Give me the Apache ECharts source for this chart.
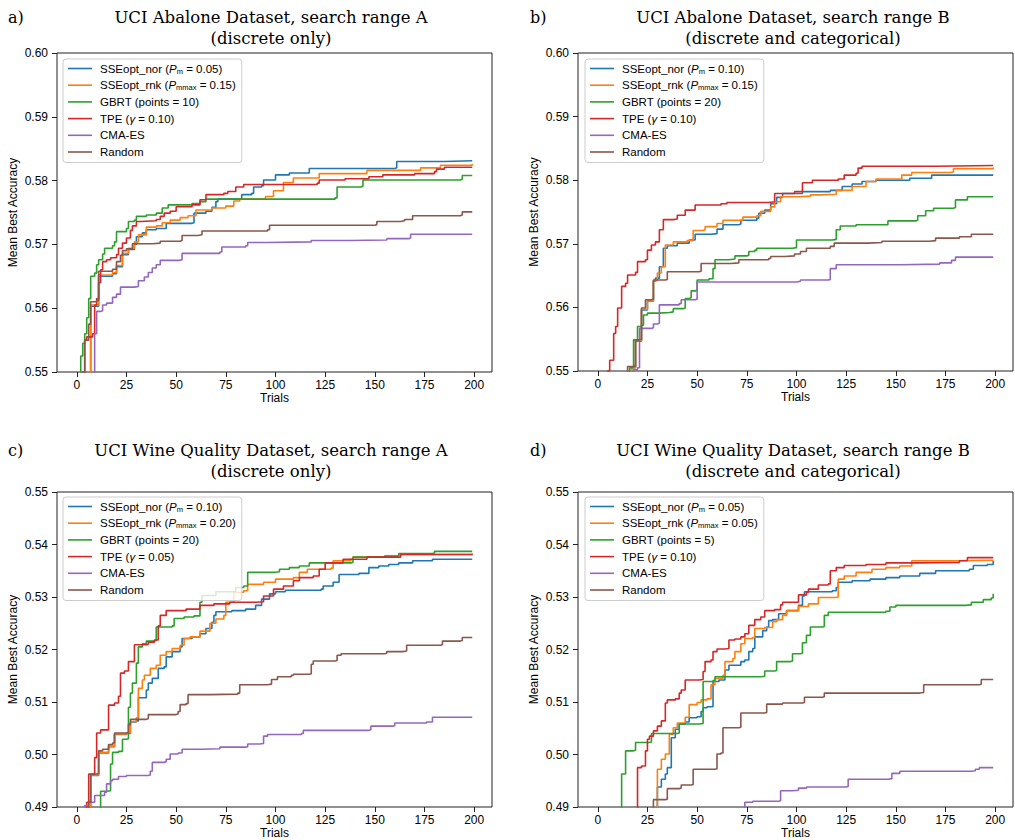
<!DOCTYPE html>
<html>
<head>
<meta charset="utf-8">
<script src="https://cdn.jsdelivr.net/npm/echarts@6/dist/echarts.min.js"></script>
<style>
  html, body { margin: 0; padding: 0; background: #fff; }
  #chart { width: 1015px; height: 840px; }
</style>
</head>
<body>
<div id="chart"></div>
<script>
// tick labels
var trialTicks = [0, 25, 50, 75, 100, 125, 150, 175, 200];
var abaloneTicks = [0.55, 0.56, 0.57, 0.58, 0.59, 0.60];
var wineTicks = [0.49, 0.50, 0.51, 0.52, 0.53, 0.54, 0.55];

// legend entries per panel
var namesA = ['SSEopt_nor (Pm = 0.05)', 'SSEopt_rnk (Pmmax = 0.15)', 'GBRT (points = 10)', 'TPE (γ = 0.10)', 'CMA-ES', 'Random'];
var namesB = ['SSEopt_nor (Pm = 0.10)', 'SSEopt_rnk (Pmmax = 0.15)', 'GBRT (points = 20)', 'TPE (γ = 0.10)', 'CMA-ES', 'Random'];
var namesC = ['SSEopt_nor (Pm = 0.10)', 'SSEopt_rnk (Pmmax = 0.20)', 'GBRT (points = 20)', 'TPE (γ = 0.05)', 'CMA-ES', 'Random'];
var namesD = ['SSEopt_nor (Pm = 0.05)', 'SSEopt_rnk (Pmmax = 0.05)', 'GBRT (points = 5)', 'TPE (γ = 0.10)', 'CMA-ES', 'Random'];

// --- a) Abalone, range A : [trial, mean best accuracy]
var nor_a = [[0,0.540],[4,0.549],[7,0.5603],[11,0.5650],[18,0.5654],[20,0.5665],[23,0.5684],[26,0.5692],[29,0.5700],[30,0.5712],[33,0.5718],[35,0.5723],[40,0.5725],[45,0.5733],[58,0.5734],[59,0.5749],[65,0.5752],[68,0.5758],[70,0.5767],[71,0.5771],[82,0.5772],[83,0.5778],[88,0.5780],[89,0.5790],[93,0.5792],[94,0.5801],[100,0.5809],[107,0.5812],[117,0.5819],[160,0.5820],[161,0.5830],[185,0.5831],[199,0.5832]];
var rnk_a = [[0,0.540],[4,0.549],[7,0.5605],[11,0.5652],[18,0.5656],[20,0.5667],[23,0.5686],[26,0.5694],[29,0.5704],[31,0.5715],[35,0.5727],[40,0.5729],[43,0.5734],[47,0.5738],[52,0.5742],[56,0.5745],[60,0.5754],[68,0.5757],[75,0.5760],[79,0.5768],[82,0.5771],[95,0.5775],[99,0.5784],[104,0.5797],[109,0.5804],[122,0.5811],[146,0.5816],[173,0.5820],[183,0.5824],[199,0.5826]];
var gbrt_a = [[0,0.540],[1.5,0.549],[2,0.5525],[3,0.5545],[4,0.556],[5,0.5585],[6,0.5615],[7,0.5650],[9,0.5655],[10,0.5668],[11,0.5676],[13,0.5685],[14,0.5694],[18,0.5698],[19,0.5704],[20,0.5720],[25,0.5725],[26,0.5736],[29,0.5738],[30,0.5744],[35,0.5746],[40,0.5749],[43,0.5757],[46,0.5762],[58,0.5764],[62,0.5767],[65,0.5771],[130,0.5773],[131,0.5790],[143,0.5791],[144,0.5801],[193,0.5802],[194,0.5808],[199,0.5808]];
var tpe_a = [[0,0.540],[3,0.548],[4,0.5550],[5,0.5555],[8,0.5560],[9,0.5605],[10,0.5615],[11,0.5640],[12,0.5660],[13,0.5673],[15,0.5676],[17,0.5679],[20,0.5684],[21,0.5694],[23,0.5702],[25,0.5710],[27,0.5722],[28,0.5729],[30,0.5736],[32,0.5737],[40,0.5739],[42,0.5744],[44,0.5749],[47,0.5752],[50,0.5759],[58,0.5762],[62,0.5770],[65,0.5778],[74,0.5780],[76,0.5783],[80,0.5790],[84,0.5794],[121,0.5796],[122,0.5801],[135,0.5803],[147,0.5806],[154,0.5809],[170,0.5811],[180,0.5814],[181,0.5818],[185,0.5821],[199,0.5822]];
var cma_a = [[0,0.540],[8,0.545],[9,0.5560],[10,0.5595],[12,0.5596],[13,0.5605],[15,0.5608],[18,0.5617],[20,0.5622],[22,0.5633],[29,0.5634],[31,0.5643],[34,0.5649],[36,0.5656],[38,0.5663],[40,0.5668],[42,0.5675],[52,0.5676],[53,0.5686],[72,0.5688],[73,0.5696],[85,0.5698],[86,0.5703],[96,0.5704],[118,0.5706],[137,0.5707],[156,0.5709],[167,0.5710],[168,0.5716],[199,0.5716]];
var rand_a = [[0,0.540],[3,0.550],[4,0.555],[6,0.5575],[7,0.5610],[10,0.5612],[11,0.5658],[18,0.5661],[20,0.5673],[22,0.5683],[23,0.5690],[25,0.5693],[28,0.5701],[38,0.5702],[42,0.5705],[52,0.5706],[53,0.5714],[61,0.5715],[63,0.5721],[96,0.5723],[97,0.5730],[150,0.5731],[151,0.5736],[163,0.5737],[165,0.5739],[169,0.5745],[193,0.5746],[194,0.5751],[199,0.5751]];

// --- b) Abalone, range B
var nor_b = [[0,0.540],[15,0.546],[17,0.5505],[19,0.5547],[22,0.5596],[25,0.5610],[28,0.5641],[29,0.5646],[31,0.5664],[33,0.5693],[35,0.5697],[40,0.5701],[46,0.5706],[49,0.5715],[57,0.5716],[60,0.5723],[63,0.5730],[71,0.5731],[72,0.5737],[80,0.5740],[81,0.5748],[84,0.5753],[87,0.5763],[90,0.5773],[93,0.5779],[103,0.5782],[117,0.5784],[123,0.5790],[128,0.5794],[133,0.5798],[140,0.5800],[157,0.5803],[168,0.5808],[199,0.5809]];
var rnk_b = [[0,0.540],[15,0.546],[17,0.5505],[19,0.5548],[22,0.5597],[25,0.5611],[28,0.5642],[30,0.5654],[32,0.5664],[34,0.5698],[38,0.5703],[45,0.5705],[48,0.5721],[53,0.5722],[54,0.5727],[60,0.5732],[63,0.5737],[73,0.5742],[80,0.5744],[82,0.5751],[87,0.5758],[89,0.5766],[92,0.5774],[101,0.5775],[107,0.5777],[112,0.5778],[120,0.5784],[128,0.5790],[135,0.5798],[140,0.5802],[153,0.5808],[158,0.5812],[177,0.5813],[179,0.5818],[199,0.5820]];
var gbrt_b = [[0,0.540],[15,0.548],[16,0.5505],[18,0.5549],[20,0.5570],[22,0.5572],[23,0.5588],[25,0.5591],[31,0.5592],[36,0.5593],[38,0.5598],[43,0.5599],[44,0.5614],[46,0.5615],[47,0.5626],[49,0.5627],[50,0.5643],[56,0.5645],[58,0.5661],[59,0.5675],[66,0.5676],[69,0.5681],[75,0.5682],[76,0.5688],[79,0.5690],[80,0.5693],[98,0.5694],[100,0.5706],[118,0.5707],[120,0.5722],[122,0.5728],[130,0.5730],[146,0.5736],[160,0.5737],[161,0.5744],[165,0.5752],[169,0.5756],[179,0.5757],[180,0.5769],[186,0.5774],[199,0.5774]];
var tpe_b = [[0,0.540],[5,0.5500],[6,0.5517],[8,0.5559],[9,0.5570],[10,0.5599],[12,0.5633],[14,0.5638],[15,0.5651],[19,0.5655],[20,0.5672],[24,0.5675],[25,0.5690],[27,0.5698],[29,0.5703],[31,0.5722],[33,0.5738],[38,0.5739],[40,0.5745],[44,0.5753],[49,0.5761],[62,0.5763],[65,0.5765],[86,0.5766],[89,0.5779],[99,0.5782],[103,0.5796],[108,0.5800],[121,0.5802],[124,0.5808],[130,0.5811],[131,0.5819],[133,0.5822],[170,0.5823],[199,0.5824]];
var cma_b = [[0,0.540],[17,0.5495],[18,0.5502],[20,0.5505],[21,0.5567],[27,0.5568],[28,0.5574],[30,0.5575],[31,0.5604],[41,0.5606],[42,0.5612],[49,0.5613],[50,0.5640],[100,0.5641],[102,0.5643],[116,0.5644],[117,0.5661],[120,0.5667],[152,0.5668],[172,0.5670],[178,0.5674],[180,0.5679],[199,0.5680]];
var rand_b = [[0,0.540],[14,0.548],[15,0.5507],[18,0.5508],[19,0.5549],[21,0.5550],[22,0.5599],[24,0.5612],[27,0.5613],[28,0.5643],[34,0.5644],[35,0.5656],[51,0.5657],[52,0.5669],[67,0.5670],[71,0.5675],[86,0.5677],[87,0.5680],[94,0.5681],[99,0.5684],[102,0.5688],[105,0.5693],[117,0.5696],[119,0.5701],[136,0.5702],[143,0.5704],[167,0.5705],[170,0.5709],[182,0.5711],[188,0.5715],[199,0.5716]];

// --- c) Wine quality, range A
var nor_c = [[0,0.485],[5,0.4900],[7,0.4960],[11,0.5003],[16,0.5015],[19,0.5038],[25,0.5040],[27,0.5062],[30,0.5064],[31,0.5108],[35,0.5123],[36,0.5136],[38,0.5145],[41,0.5164],[44,0.5167],[45,0.5186],[48,0.5196],[52,0.5205],[53,0.5221],[58,0.5224],[62,0.5230],[65,0.5240],[68,0.5252],[69,0.5265],[70,0.5272],[78,0.5274],[85,0.5277],[90,0.5284],[93,0.5296],[97,0.5306],[100,0.5310],[105,0.5313],[123,0.5315],[124,0.5321],[129,0.5328],[132,0.5343],[142,0.5345],[147,0.5356],[152,0.5359],[157,0.5362],[162,0.5365],[169,0.5369],[179,0.5372],[199,0.5373]];
var rnk_c = [[0,0.485],[5,0.4900],[7,0.4961],[11,0.5004],[16,0.5016],[19,0.5039],[25,0.5041],[27,0.5063],[30,0.5070],[31,0.5126],[33,0.5142],[34,0.5151],[37,0.5164],[40,0.5170],[42,0.5189],[45,0.5196],[48,0.5202],[52,0.5208],[54,0.5221],[57,0.5224],[62,0.5235],[67,0.5250],[70,0.5258],[74,0.5265],[75,0.5290],[79,0.5309],[84,0.5312],[86,0.5324],[94,0.5328],[100,0.5334],[109,0.5337],[112,0.5347],[116,0.5353],[128,0.5355],[129,0.5369],[138,0.5372],[139,0.5376],[155,0.5378],[162,0.5381],[199,0.5381]];
var gbrt_c = [[0,0.485],[11,0.4880],[12,0.4930],[15,0.4931],[17,0.4982],[18,0.5004],[21,0.5006],[23,0.5029],[25,0.5030],[26,0.5090],[27,0.5117],[28,0.5136],[30,0.5174],[31,0.5205],[33,0.5211],[35,0.5216],[39,0.5217],[40,0.5243],[48,0.5245],[49,0.5259],[54,0.5262],[59,0.5264],[62,0.5290],[63,0.5303],[70,0.5310],[80,0.5318],[84,0.5321],[86,0.5347],[100,0.5348],[102,0.5353],[107,0.5356],[112,0.5359],[117,0.5365],[138,0.5366],[139,0.5376],[155,0.5378],[162,0.5383],[179,0.5384],[180,0.5387],[199,0.5387]];
var tpe_c = [[0,0.485],[3,0.4895],[5,0.4909],[6,0.4963],[9,0.4994],[10,0.5041],[12,0.5047],[16,0.5094],[19,0.5098],[21,0.5111],[22,0.5155],[24,0.5159],[26,0.5177],[29,0.5209],[35,0.5210],[36,0.5214],[39,0.5218],[41,0.5245],[42,0.5265],[45,0.5274],[55,0.5277],[62,0.5284],[69,0.5287],[77,0.5290],[90,0.5291],[94,0.5302],[99,0.5315],[104,0.5321],[109,0.5331],[112,0.5337],[119,0.5340],[122,0.5353],[125,0.5365],[134,0.5372],[146,0.5376],[163,0.5381],[199,0.5383]];
var cma_c = [[0,0.485],[4,0.4903],[6,0.4909],[9,0.4922],[14,0.4928],[15,0.4944],[17,0.4950],[18,0.4953],[21,0.4958],[25,0.4960],[36,0.4961],[37,0.4968],[38,0.4985],[44,0.4986],[45,0.4991],[47,0.5001],[51,0.5003],[53,0.5010],[63,0.5011],[72,0.5014],[85,0.5015],[86,0.5020],[92,0.5021],[94,0.5035],[96,0.5038],[113,0.5040],[114,0.5046],[147,0.5047],[148,0.5054],[159,0.5055],[160,0.5060],[176,0.5062],[179,0.5071],[199,0.5071]];
var rand_c = [[0,0.485],[4,0.4895],[6,0.4909],[7,0.4963],[10,0.4964],[11,0.5007],[13,0.5010],[16,0.5019],[18,0.5022],[19,0.5041],[25,0.5042],[26,0.5057],[27,0.5067],[35,0.5068],[36,0.5076],[50,0.5077],[51,0.5082],[52,0.5095],[55,0.5097],[56,0.5114],[67,0.5115],[81,0.5117],[82,0.5133],[96,0.5134],[98,0.5143],[101,0.5148],[108,0.5151],[109,0.5153],[117,0.5154],[118,0.5172],[119,0.5178],[130,0.5179],[131,0.5189],[133,0.5192],[155,0.5193],[156,0.5196],[164,0.5197],[166,0.5208],[183,0.5209],[184,0.5216],[193,0.5217],[194,0.5223],[199,0.5223]];

// --- d) Wine quality, range B
var nor_d = [[0,0.485],[28,0.4880],[30,0.4938],[32,0.4953],[34,0.4963],[35,0.4975],[37,0.5032],[39,0.5048],[41,0.5058],[44,0.5062],[46,0.5070],[50,0.5072],[52,0.5082],[53,0.5089],[55,0.5091],[58,0.5139],[61,0.5142],[64,0.5161],[66,0.5170],[72,0.5177],[74,0.5180],[76,0.5196],[78,0.5202],[79,0.5224],[83,0.5236],[85,0.5243],[86,0.5255],[88,0.5257],[91,0.5268],[95,0.5274],[101,0.5284],[103,0.5302],[104,0.5310],[118,0.5312],[120,0.5318],[121,0.5328],[128,0.5331],[137,0.5334],[145,0.5337],[152,0.5340],[162,0.5345],[170,0.5350],[187,0.5353],[189,0.5360],[196,0.5362],[199,0.5369]];
var rnk_d = [[0,0.485],[28,0.4880],[30,0.4972],[32,0.4991],[34,0.5001],[36,0.5038],[38,0.5051],[40,0.5060],[44,0.5071],[46,0.5095],[50,0.5099],[52,0.5104],[55,0.5106],[57,0.5133],[59,0.5145],[63,0.5151],[64,0.5177],[68,0.5183],[69,0.5196],[72,0.5211],[74,0.5221],[78,0.5223],[79,0.5240],[84,0.5242],[88,0.5253],[90,0.5257],[93,0.5265],[95,0.5274],[101,0.5282],[106,0.5287],[111,0.5299],[120,0.5300],[121,0.5334],[124,0.5340],[130,0.5347],[138,0.5353],[145,0.5356],[152,0.5359],[158,0.5369],[180,0.5370],[199,0.5370]];
var gbrt_d = [[0,0.485],[11,0.4880],[12,0.4963],[14,0.5007],[18,0.5008],[19,0.5023],[26,0.5024],[27,0.5040],[40,0.5041],[41,0.5058],[51,0.5059],[53,0.5139],[58,0.5141],[59,0.5148],[82,0.5149],[84,0.5159],[89,0.5160],[90,0.5177],[97,0.5178],[98,0.5192],[102,0.5193],[103,0.5213],[105,0.5227],[107,0.5243],[113,0.5244],[114,0.5265],[116,0.5271],[145,0.5273],[147,0.5281],[150,0.5284],[185,0.5285],[188,0.5290],[194,0.5295],[198,0.5298],[199,0.5306]];
var tpe_d = [[0,0.485],[18,0.4880],[20,0.4975],[22,0.4978],[24,0.5007],[25,0.5029],[26,0.5035],[28,0.5045],[30,0.5054],[32,0.5064],[34,0.5098],[35,0.5104],[39,0.5106],[41,0.5117],[42,0.5123],[44,0.5142],[51,0.5143],[53,0.5158],[54,0.5177],[57,0.5180],[58,0.5196],[60,0.5201],[64,0.5202],[66,0.5218],[69,0.5220],[72,0.5224],[74,0.5230],[76,0.5246],[79,0.5257],[82,0.5262],[84,0.5274],[89,0.5276],[92,0.5285],[93,0.5290],[101,0.5304],[105,0.5309],[106,0.5315],[111,0.5323],[116,0.5325],[117,0.5350],[120,0.5356],[124,0.5360],[135,0.5362],[145,0.5365],[160,0.5366],[182,0.5369],[186,0.5375],[199,0.5375]];
var cma_d = [[0,0.485],[72,0.4880],[74,0.4909],[78,0.4911],[91,0.4912],[92,0.4931],[98,0.4932],[101,0.4936],[105,0.4938],[125,0.4939],[126,0.4953],[146,0.4954],[148,0.4964],[152,0.4968],[188,0.4969],[190,0.4972],[192,0.4975],[199,0.4975]];
var rand_d = [[0,0.485],[27,0.4880],[28,0.4914],[34,0.4915],[35,0.4935],[41,0.4936],[42,0.4942],[47,0.4943],[48,0.4972],[59,0.4973],[60,0.5001],[62,0.5003],[63,0.5051],[71,0.5052],[72,0.5079],[84,0.5080],[85,0.5096],[93,0.5098],[103,0.5099],[104,0.5109],[113,0.5110],[114,0.5117],[162,0.5118],[164,0.5133],[192,0.5134],[193,0.5143],[199,0.5143]];

var colors = ['#1f77b4', '#ff7f0e', '#2ca02c', '#d62728', '#9467bd', '#8c564b'];
var sans = 'Liberation Sans';
var serif = 'DejaVu Serif';

var panels = [
  { tag: 'a)', title: 'UCI Abalone Dataset, search range A\n(discrete only)', left: 57, top: 53, height: 319,
    ticks: abaloneTicks, names: namesA, data: [nor_a, rnk_a, gbrt_a, tpe_a, cma_a, rand_a],
    tagLeft: 8, titleX: 271, titleTop: 6.5, legLeft: 63, legTop: 59 },
  { tag: 'b)', title: 'UCI Abalone Dataset, search range B\n(discrete and categorical)', left: 578, top: 53, height: 318,
    ticks: abaloneTicks, names: namesB, data: [nor_b, rnk_b, gbrt_b, tpe_b, cma_b, rand_b],
    tagLeft: 530, titleX: 793, titleTop: 6.5, legLeft: 585, legTop: 59 },
  { tag: 'c)', title: 'UCI Wine Quality Dataset, search range A\n(discrete only)', left: 57, top: 492, height: 318,
    ticks: wineTicks, names: namesC, data: [nor_c, rnk_c, gbrt_c, tpe_c, cma_c, rand_c],
    tagLeft: 8, titleX: 271, titleTop: 440, legLeft: 63, legTop: 497 },
  { tag: 'd)', title: 'UCI Wine Quality Dataset, search range B\n(discrete and categorical)', left: 578, top: 492, height: 318,
    ticks: wineTicks, names: namesD, data: [nor_d, rnk_d, gbrt_d, tpe_d, cma_d, rand_d],
    tagLeft: 530, titleX: 793, titleTop: 440, legLeft: 585, legTop: 497 }
];

function legendLabel(name) {
  return name.replace('Pmmax', '{i|P}{s|mmax}').replace('Pm ', '{i|P}{s|m} ').replace('γ', '{i|γ}');
}

var option = { animation: false, title: [], grid: [], xAxis: [], yAxis: [], legend: [], series: [] };

panels.forEach(function(p, k) {
  option.title.push({
    text: p.tag, left: p.tagLeft, top: p.titleTop, padding: 0,
    textStyle: { fontFamily: serif, fontSize: 16, fontWeight: 'normal', color: '#000', lineHeight: 21 }
  });
  option.title.push({
    text: p.title, left: p.titleX, top: p.titleTop, padding: 0, textAlign: 'center',
    textStyle: { fontFamily: serif, fontSize: 16.5, fontWeight: 'normal', color: '#000', lineHeight: 21 }
  });
  option.grid.push({
    left: p.left, top: p.top, width: 435, height: p.height,
    show: true, borderColor: '#222', borderWidth: 1, backgroundColor: 'transparent'
  });
  option.xAxis.push({
    gridIndex: k, type: 'value', min: -9.95, max: 208.95,
    axisLine: { show: false, onZero: false },
    axisTick: { show: true, length: 5, customValues: trialTicks, lineStyle: { color: '#222', width: 1 } },
    axisLabel: { customValues: trialTicks, margin: 7, color: '#000', fontSize: 12, fontFamily: sans },
    splitLine: { show: false },
    name: 'Trials', nameLocation: 'middle', nameGap: 20,
    nameTextStyle: { color: '#000', fontSize: 12, fontFamily: sans }
  });
  option.yAxis.push({
    gridIndex: k, type: 'value', min: p.ticks[0], max: p.ticks[p.ticks.length - 1],
    axisLine: { show: false, onZero: false },
    axisTick: { show: true, length: 5, customValues: p.ticks, lineStyle: { color: '#222', width: 1 } },
    axisLabel: { customValues: p.ticks, margin: 9, color: '#000', fontSize: 12, fontFamily: sans,
      formatter: function(v) { return v.toFixed(2); } },
    splitLine: { show: false },
    name: 'Mean Best Accuracy', nameLocation: 'middle', nameGap: 38,
    nameTextStyle: { color: '#000', fontSize: 12, fontFamily: sans }
  });
  option.legend.push({
    data: p.names, orient: 'vertical', left: p.legLeft, top: p.legTop,
    icon: 'rect', itemWidth: 24, itemHeight: 1.6, itemGap: 3.7, padding: [3, 6, 4, 5],
    borderColor: '#cccccc', borderWidth: 1, borderRadius: 3,
    backgroundColor: 'rgba(255,255,255,0.8)', selectedMode: false,
    formatter: legendLabel,
    textStyle: {
      fontFamily: sans, fontSize: 11.5, color: '#000', lineHeight: 13, padding: [0, 0, 0, 3],
      rich: {
        i: { fontFamily: sans, fontSize: 11.5, fontStyle: 'italic', color: '#000', lineHeight: 13 },
        s: { fontFamily: sans, fontSize: 7.5, color: '#000', lineHeight: 8, verticalAlign: 'bottom' }
      }
    }
  });
  p.data.forEach(function(d, j) {
    option.series.push({
      type: 'line', name: p.names[j], xAxisIndex: k, yAxisIndex: k,
      data: d, step: 'end', symbol: 'none', clip: true,
      lineStyle: { color: colors[j], width: 1.6 },
      itemStyle: { color: colors[j] }
    });
  });
});

var chart = echarts.init(document.getElementById('chart'), null, { renderer: 'svg' });
chart.setOption(option);
</script>
</body>
</html>
